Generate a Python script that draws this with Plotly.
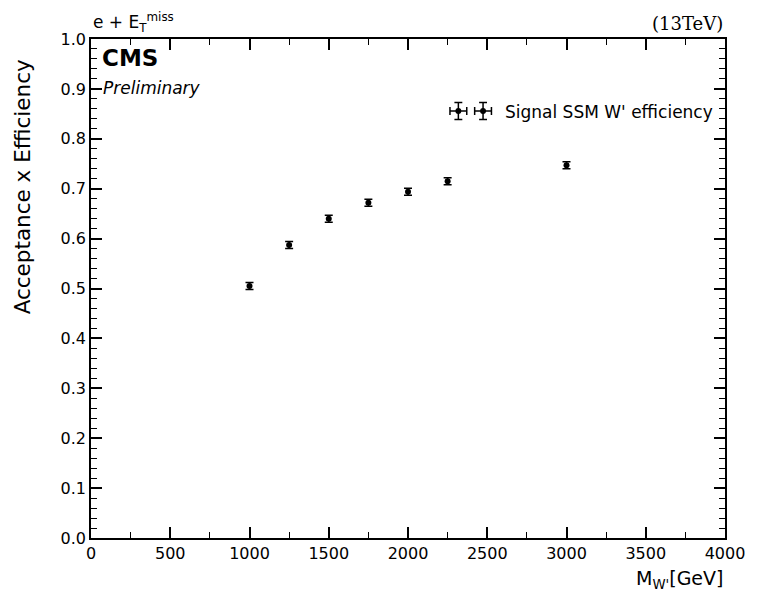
import plotly.graph_objects as go

mass = [1000, 1250, 1500, 1750, 2000, 2250, 3000]
eff = [0.505, 0.587, 0.640, 0.672, 0.694, 0.715, 0.747]
eff_err = [0.007, 0.007, 0.007, 0.007, 0.007, 0.007, 0.007]
series_name = "Signal SSM W' efficiency"

font = "DejaVu Sans"
W, H = 757, 592
ML, MR, MT, MB = 91, 24, 39, 54
PW, PH = W - ML - MR, H - MT - MB


def px(xp):
    return (xp - ML) / PW


def py(yp):
    return (H - MB - yp) / PH


fig = go.Figure()
fig.add_trace(go.Scatter(
    x=mass, y=eff, mode="markers", name=series_name,
    marker=dict(color="black", size=6, symbol="circle"),
    error_y=dict(type="data", array=eff_err, color="black", thickness=1.5, width=4),
    showlegend=False,
))

axis_common = dict(
    ticks="inside", mirror="ticks", showline=True, linecolor="black", linewidth=1.5,
    tickcolor="black", tickwidth=1.5, ticklen=11, showgrid=False, zeroline=False,
    tickfont=dict(family=font, size=16, color="black"),
)
fig.update_xaxes(range=[0, 4000], tickmode="linear", tick0=0, dtick=500,
                 minor=dict(ticks="inside", dtick=250, ticklen=6, tickcolor="black", tickwidth=1.2, showgrid=False),
                 **axis_common)
fig.update_yaxes(range=[0, 1.0], tickmode="linear", tick0=0, dtick=0.1, tickformat=".1f",
                 minor=dict(ticks="inside", dtick=0.02, ticklen=6, tickcolor="black", tickwidth=1.2, showgrid=False),
                 **axis_common)

# legend glyphs (errorbar icons), drawn as paper-space decoration
shapes = []
for cx in (463, 488):
    cy = 111
    ln = dict(color="black", width=1.5)
    segs = [
        (cx - 8.5, cy, cx + 8.5, cy),
        (cx, cy - 8.5, cx, cy + 8.5),
        (cx - 8.5, cy - 4, cx - 8.5, cy + 4),
        (cx + 8.5, cy - 4, cx + 8.5, cy + 4),
        (cx - 4, cy - 8.5, cx + 4, cy - 8.5),
        (cx - 4, cy + 8.5, cx + 4, cy + 8.5),
    ]
    for x0, y0, x1, y1 in segs:
        shapes.append(dict(type="line", xref="paper", yref="paper",
                           x0=px(x0), y0=py(y0), x1=px(x1), y1=py(y1), line=ln))
    shapes.append(dict(type="circle", xref="paper", yref="paper",
                       x0=px(cx - 3), x1=px(cx + 3), y0=py(cy + 3), y1=py(cy - 3),
                       fillcolor="black", line=dict(color="black", width=0)))

fig.update_layout(
    width=W, height=H,
    margin=dict(l=ML, r=MR, t=MT, b=MB),
    plot_bgcolor="white", paper_bgcolor="white",
    font=dict(family=font, color="black"),
    showlegend=False,
    shapes=shapes,
    annotations=[
        dict(text=series_name, x=px(508), y=py(112), xref="paper", yref="paper",
             xanchor="left", yanchor="middle", showarrow=False,
             font=dict(family=font, size=17)),
        dict(text="<b>CMS</b>", x=px(100), y=py(43), xref="paper", yref="paper",
             xanchor="left", yanchor="top", showarrow=False,
             font=dict(family=font, size=23)),
        dict(text="<i>Preliminary</i>", x=px(101), y=py(76), xref="paper", yref="paper",
             xanchor="left", yanchor="top", showarrow=False,
             font=dict(family=font, size=17)),
        dict(text="e + E<sub>T</sub><sup>miss</sup>", x=px(91), y=py(37), xref="paper", yref="paper",
             xanchor="left", yanchor="bottom", showarrow=False,
             font=dict(family=font, size=17)),
        dict(text="(13TeV)", x=1.0, y=py(36), xref="paper", yref="paper",
             xanchor="right", yanchor="bottom", showarrow=False,
             font=dict(family="DejaVu Serif", size=18)),
        dict(text="M<sub>W'</sub>[GeV]", x=1.0, y=py(565), xref="paper", yref="paper",
             xanchor="right", yanchor="top", showarrow=False,
             font=dict(family=font, size=19)),
        dict(text="Acceptance x Efficiency", x=px(22), y=py(57), xref="paper", yref="paper",
             xanchor="center", yanchor="top", textangle=-90, showarrow=False,
             font=dict(family=font, size=21.5)),
    ],
)

fig.write_html("out.html")
